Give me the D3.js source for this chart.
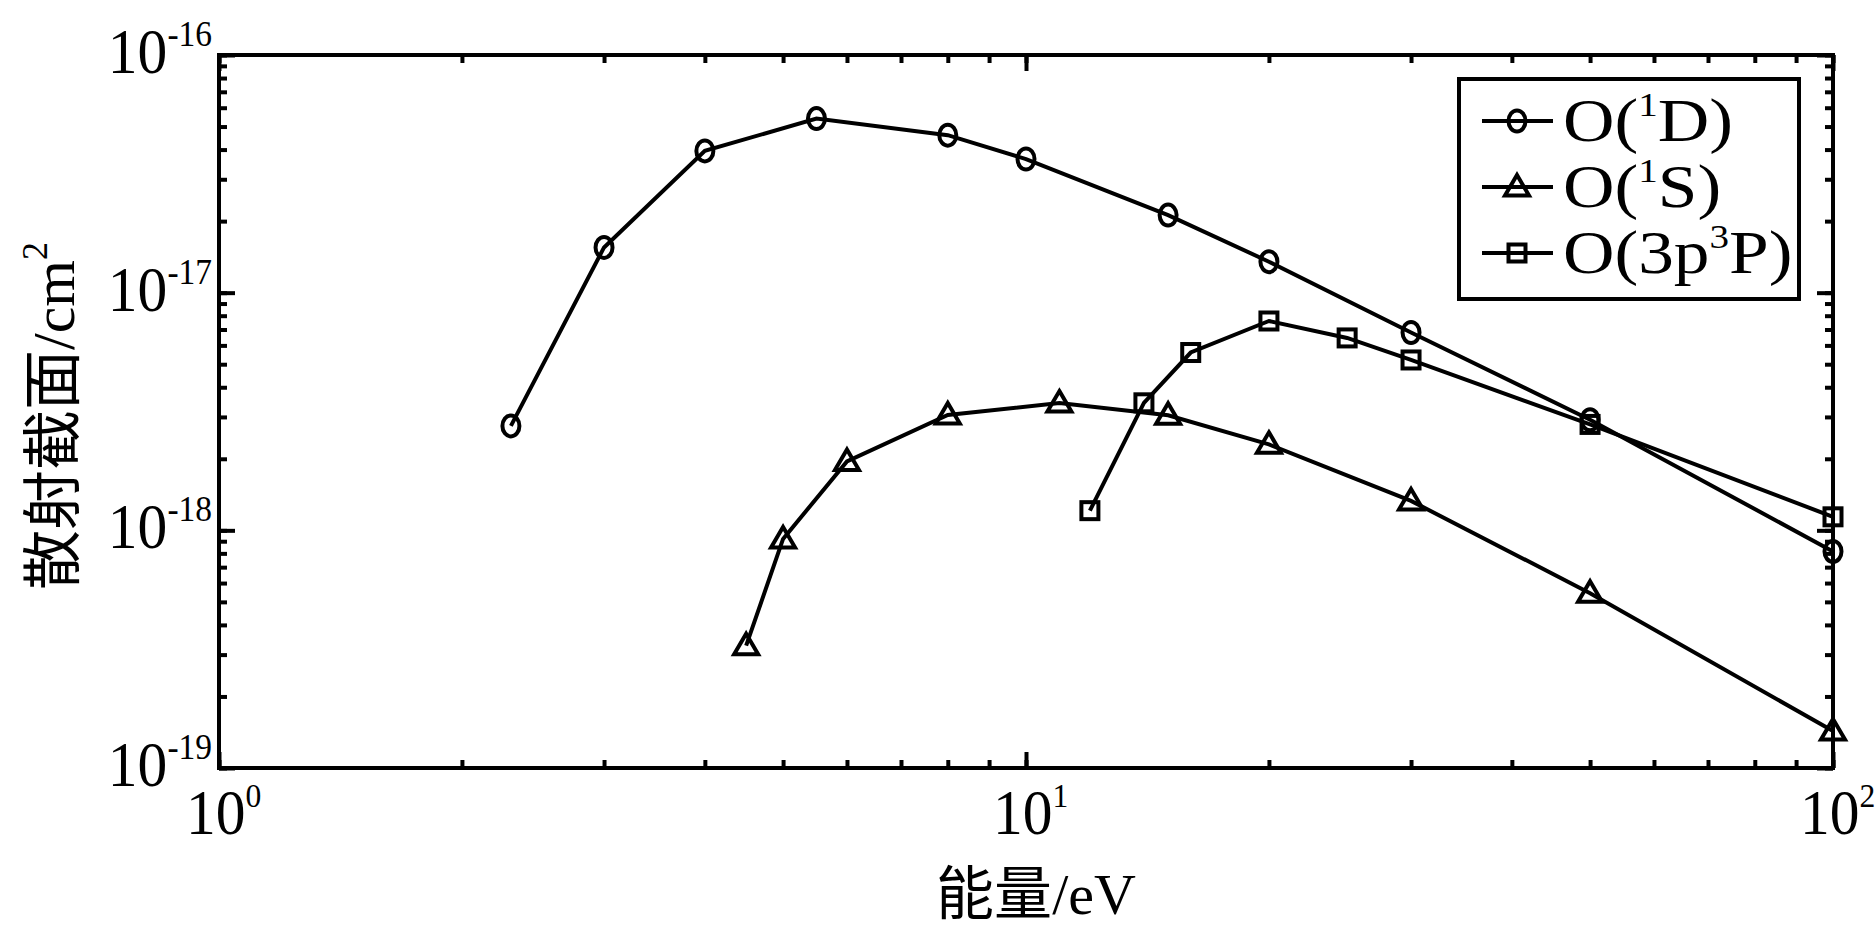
<!DOCTYPE html>
<html lang="en">
<head>
<meta charset="utf-8">
<title>散射截面</title>
<script src="https://d3js.org/d3.v7.min.js"></script>
<style>
  body { margin: 0; background: #fff; }
</style>
</head>
<body>
<script>
// data
var energy1D = [2.3, 3, 4, 5.5, 8, 10, 15, 20, 30, 50, 100];
var sigma1D = [2.75e-18, 1.55e-17, 3.95e-17, 5.4e-17, 4.6e-17, 3.65e-17, 2.12e-17, 1.35e-17, 6.8e-18, 2.92e-18, 8.15e-19];

var energy1S = [4.5, 5, 6, 8, 11, 15, 20, 30, 50, 100];
var sigma1S = [3.27e-19, 9.2e-19, 1.95e-18, 3.06e-18, 3.43e-18, 3.05e-18, 2.3e-18, 1.33e-18, 5.44e-19, 1.43e-19];

var energy3P = [12, 14, 16, 20, 25, 30, 50, 100];
var sigma3P = [1.21e-18, 3.44e-18, 5.6e-18, 7.6e-18, 6.45e-18, 5.21e-18, 2.79e-18, 1.14e-18];

var xTickValues = [1, 10, 100];
var xTickExps = ["0", "1", "2"];
var yTickValues = [1e-16, 1e-17, 1e-18, 1e-19];
var yTickExps = ["-16", "-17", "-18", "-19"];

var SERIF = "'Liberation Serif', 'DejaVu Serif', serif";
var CJK = "'Noto Sans CJK SC', sans-serif";

var W = 1876, H = 932;
var margin = {left: 219, top: 55, right: 43, bottom: 164};
var w = W - margin.left - margin.right;
var h = H - margin.top - margin.bottom;

var svg = d3.select("body").append("svg")
  .attr("width", W).attr("height", H);

var g = svg.append("g")
  .attr("transform", "translate(" + margin.left + "," + margin.top + ")");

var x = d3.scaleLog().domain([1, 100]).range([0, w]);
var y = d3.scaleLog().domain([1e-19, 1e-16]).range([h, 0]);

// ticks on all four sides, pointing inward
function tickAxes(minorSize, majorSize) {
  var gAx = g.append("g");
  var xs = x.ticks(), ys = y.ticks();
  var sides = [
    [d3.axisBottom(x), "translate(0," + h + ")", xs, xTickValues],
    [d3.axisTop(x), "translate(0,0)", xs, xTickValues],
    [d3.axisLeft(y), "translate(0,0)", ys, yTickValues],
    [d3.axisRight(y), "translate(" + w + ",0)", ys, yTickValues]
  ];
  sides.forEach(function(s) {
    gAx.append("g").attr("transform", s[1])
      .call(s[0].tickValues(s[2]).tickSize(-minorSize).tickFormat(""));
    gAx.append("g").attr("transform", s[1])
      .call(s[0].tickValues(s[3]).tickSize(-majorSize).tickFormat(""));
  });
  gAx.selectAll(".domain").remove();
  gAx.selectAll("line").attr("stroke", "#000").attr("stroke-width", 4);
}
tickAxes(8, 16);

// frame
g.append("rect")
  .attr("x", 0).attr("y", 0).attr("width", w).attr("height", h)
  .attr("fill", "none").attr("stroke", "#000").attr("stroke-width", 4);

// power-of-ten label
function powLabel(sel, exp, anchor, supSize) {
  var t = sel.append("text")
    .attr("text-anchor", anchor)
    .attr("font-family", SERIF)
    .attr("font-size", 64)
    .attr("transform", "scale(0.93,1)");
  t.append("tspan").text("10");
  t.append("tspan").attr("dy", -27).attr("font-size", supSize).text(exp);
}

// x tick labels
xTickValues.forEach(function(v, i) {
  g.append("g")
    .attr("transform", "translate(" + (x(v) - 33) + "," + (h + 66) + ")")
    .call(powLabel, xTickExps[i], "start", 34);
});

// y tick labels
yTickValues.forEach(function(v, i) {
  g.append("g")
    .attr("transform", "translate(-7," + (y(v) + 18) + ")")
    .call(powLabel, yTickExps[i], "end", 36);
});

// axis titles
svg.append("text")
  .attr("x", 1036).attr("y", 914)
  .attr("text-anchor", "middle")
  .attr("font-family", SERIF)
  .attr("font-size", 58)
  .call(function(t) {
    t.append("tspan").attr("font-family", CJK).text("能量");
    t.append("tspan").text("/eV");
  });

svg.append("text")
  .attr("transform", "translate(74,416) rotate(-90)")
  .attr("text-anchor", "middle")
  .attr("font-family", SERIF)
  .attr("font-size", 60)
  .call(function(t) {
    t.append("tspan").attr("font-family", CJK).text("散射截面");
    t.append("tspan").text("/cm");
    t.append("tspan").attr("dy", -27).attr("font-size", 36).text("2");
  });

// marker shapes
var circleSym = function(sel) {
  sel.append("ellipse").attr("rx", 8.5).attr("ry", 10.5);
};
var triSym = function(sel) {
  sel.append("path").attr("d", "M0,-12L12,8.5L-12,8.5Z");
};
var sqSym = function(sel) {
  sel.append("rect").attr("x", -8.5).attr("y", -8.5).attr("width", 17).attr("height", 17);
};

var series = [
  {xs: energy1D, ys: sigma1D, sym: circleSym},
  {xs: energy1S, ys: sigma1S, sym: triSym},
  {xs: energy3P, ys: sigma3P, sym: sqSym}
];

var line = d3.line()
  .x(function(d) { return x(d[0]); })
  .y(function(d) { return y(d[1]); });

series.forEach(function(s) {
  var pts = d3.zip(s.xs, s.ys);
  g.append("path")
    .datum(pts)
    .attr("d", line)
    .attr("fill", "none").attr("stroke", "#000").attr("stroke-width", 4);
  g.selectAll(null)
    .data(pts)
    .enter()
    .append("g")
    .attr("transform", function(d) { return "translate(" + x(d[0]) + "," + y(d[1]) + ")"; })
    .call(s.sym)
    .selectAll("*")
    .attr("fill", "none").attr("stroke", "#000").attr("stroke-width", 4);
});

// legend
var leg = svg.append("g");
leg.append("rect")
  .attr("x", 1459).attr("y", 79).attr("width", 340).attr("height", 220)
  .attr("fill", "#fff").attr("stroke", "#000").attr("stroke-width", 4);

var legLabels = [
  ["O(", "1", "D)"],
  ["O(", "1", "S)"],
  ["O(3p", "3", "P)"]
];
series.forEach(function(s, i) {
  var cy = 121 + i * 66;
  leg.append("line")
    .attr("x1", 1482).attr("x2", 1553).attr("y1", cy).attr("y2", cy)
    .attr("stroke", "#000").attr("stroke-width", 4);
  leg.append("g")
    .attr("transform", "translate(1517," + cy + ")")
    .call(s.sym)
    .selectAll("*")
    .attr("fill", "none").attr("stroke", "#000").attr("stroke-width", 4);
  var t = leg.append("text")
    .attr("transform", "translate(1563," + (cy + 20) + ") scale(1.15,1)")
    .attr("font-family", SERIF)
    .attr("font-size", 62);
  t.append("tspan").text(legLabels[i][0]);
  t.append("tspan").attr("dy", -25).attr("font-size", 34).text(legLabels[i][1]);
  t.append("tspan").attr("dy", 25).text(legLabels[i][2]);
});
</script>
</body>
</html>
